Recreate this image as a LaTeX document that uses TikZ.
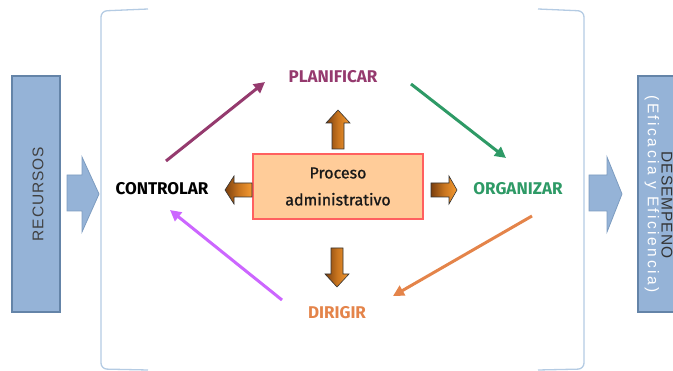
\documentclass[tikz,border=0pt]{standalone}
\usepackage{fontspec}
\setmainfont{Fira Sans}
\newfontfamily\sidefont{Liberation Sans}
\usetikzlibrary{arrows.meta}

\definecolor{sidefill}{HTML}{95B3D7}
\definecolor{sideedge}{HTML}{6484A8}
\definecolor{sidearrowedge}{HTML}{7D9CC0}
\definecolor{bracketcol}{HTML}{B4CBE3}
\definecolor{procfill}{HTML}{FFCC99}
\definecolor{procedge}{HTML}{FF6060}
\definecolor{plancol}{HTML}{953A6E}
\definecolor{orgcol}{HTML}{2E9A66}
\definecolor{dircol}{HTML}{E4844A}
\definecolor{ctrlarrow}{HTML}{CC66FF}
\definecolor{darkorange}{HTML}{7A3F0E}
\definecolor{midorange}{HTML}{C8741E}
\definecolor{lightorange}{HTML}{F49A32}

\tikzset{
  sidebox/.style={draw=sideedge, line width=1.2pt, fill=sidefill, inner sep=0pt},
  sidearrow/.style={draw=sidearrowedge, line width=0.8pt, fill=sidefill},
  sidetext/.style={font=\sidefont\fontsize{15.5}{17}\selectfont\addfontfeature{LetterSpace=6}, inner sep=0pt},
  widetext/.style={font=\sidefont\fontsize{15.5}{17}\selectfont\addfontfeature{LetterSpace=16}, inner sep=0pt},
  stagelabel/.style={font=\fontsize{17}{20}\selectfont\bfseries, inner sep=0pt},
  procbox/.style={draw=procedge, line width=1.2pt, fill=procfill, minimum width=170pt,
    minimum height=65pt, align=center, font=\fontsize{16}{27}\selectfont\addfontfeature{FakeBold=1}, text=black!90},
  cyclearrow/.style={line width=3pt, -{Triangle[length=11pt,width=11pt]}},
  outarrow/.style={draw=black!80, line width=0.6pt, left color=darkorange, right color=lightorange,
    middle color=midorange},
  bracket/.style={draw=bracketcol, line width=1.3pt, rounded corners=6pt}
}

\begin{document}
\begin{tikzpicture}[x=1pt, y=-1pt]
\useasboundingbox (0,0) rectangle (673,371);
\clip (0,0) rectangle (673,371);

% input and output columns
\node[sidebox, minimum width=48pt, minimum height=236pt] (recbox) at (36,194) {};
\node[sidetext, rotate=90, text=black!75] (rec) at (38,194) {RECURSOS};
\node[sidebox, minimum width=48pt, minimum height=236pt] (desbox) at (662,194) {};
\node[sidetext, rotate=-90, text=black!80] (des) at (667,205) {DESEMPENO};
\node[widetext, rotate=-90, text=white] (efi) at (652,194) {(Eficacia y Eficiencia)};

% wide arrows into and out of the process
\draw[sidearrow] (67,175) -- (82,175) -- (82,157) -- (99,194) -- (82,232) -- (82,211) -- (67,211) -- cycle;
\draw[sidearrow] (589,175) -- (607,175) -- (607,157) -- (622,194) -- (607,232) -- (607,211) -- (589,211) -- cycle;

% bracket around the process
\draw[bracket] (148,9) -- (101,11) -- (101,369) -- (148,370);
\draw[bracket] (538,9) -- (584,11) -- (584,369) -- (538,370);

% central process
\node[procbox] (proc) at (338,186.5) {Proceso\\administrativo};

% stages
\node[stagelabel, text=plancol] (plan) at (333,77) {PLANIFICAR};
\node[stagelabel, text=black] (ctrl) at (162,189) {CONTROLAR};
\node[stagelabel, text=orgcol] (org) at (518,189) {ORGANIZAR};
\node[stagelabel, text=dircol] (dir) at (337,313) {DIRIGIR};

% arrows from the process to each stage
\draw[outarrow] (332,149) -- (332,123) -- (326,123) -- (338,110) -- (350,123) -- (344,123) -- (344,149) -- cycle;
\draw[outarrow] (331,248) -- (331,274) -- (325,274) -- (337,287) -- (349,274) -- (343,274) -- (343,248) -- cycle;
\draw[outarrow] (252,183) -- (234,183) -- (234,176) -- (225,190) -- (234,204) -- (234,197) -- (252,197) -- cycle;
\draw[outarrow] (431,183) -- (449,183) -- (449,176) -- (457,190) -- (449,204) -- (449,197) -- (431,197) -- cycle;

% cycle between the stages
\coordinate (c1s) at (166,161); \coordinate (c1e) at (265,82);
\coordinate (c2s) at (411,84);  \coordinate (c2e) at (506,158);
\coordinate (c3s) at (532,216); \coordinate (c3e) at (393,296);
\coordinate (c4s) at (282,300); \coordinate (c4e) at (170,210);
\draw[cyclearrow, plancol] (c1s) -- (c1e);
\draw[cyclearrow, orgcol] (c2s) -- (c2e);
\draw[cyclearrow, dircol] (c3s) -- (c3e);
\draw[cyclearrow, ctrlarrow] (c4s) -- (c4e);
\end{tikzpicture}
\end{document}
